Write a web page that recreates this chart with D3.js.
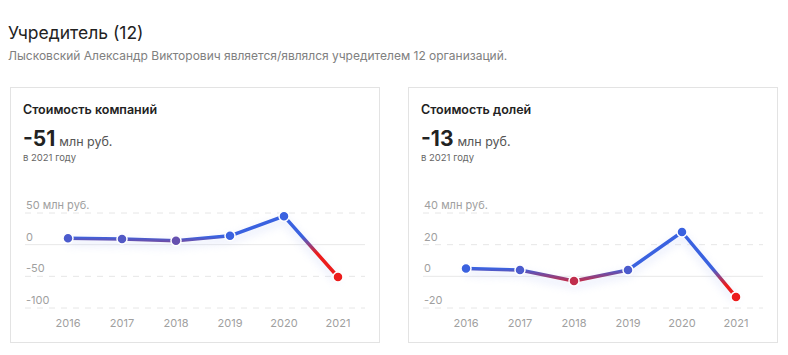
<!DOCTYPE html>
<html><head><meta charset="utf-8">
<script src="https://cdn.jsdelivr.net/npm/d3@7"></script>
<style>
body{margin:0;background:#fff;font-family:Inter,"Noto Sans",sans-serif;}
</style></head><body>
<svg id="c" width="788" height="355"></svg>
<script>
const years = ["2016","2017","2018","2019","2020","2021"];
const companyValues = [10, 9, 6, 14, 45, -51];
const shareValues = [5, 4, -3, 4, 28, -13];
const companyTicks = [50, 0, -50, -100];
const shareTicks = [40, 20, 0, -20];
const companyTitle = "Стоимость компаний";
const shareTitle = "Стоимость долей";
const headerTitle = "Учредитель (12)";
const headerSub = "Лысковский Александр Викторович является/являлся учредителем 12 организаций.";

const svg = d3.select("#c");
const blue = "#3a62e0", red = "#ec1c1c";

svg.append("text").attr("x",8).attr("y",39).attr("font-size",17.5).attr("fill","#222").text(headerTitle);
svg.append("text").attr("x",8).attr("y",60).attr("font-size",12).attr("fill","#808080").text(headerSub);

const defs = svg.append("defs");
const f = defs.append("filter").attr("id","sh").attr("x","-20%").attr("y","-50%").attr("width","140%").attr("height","200%");
f.append("feGaussianBlur").attr("in","SourceGraphic").attr("stdDeviation",4);

function card(x0, title, values, ticks, id){
  const g = svg.append("g").attr("transform",`translate(${x0},0)`);
  g.append("rect").attr("x",0.5).attr("y",87.5).attr("width",369).attr("height",255)
    .attr("fill","#fff").attr("stroke","#e3e3e3");
  g.append("text").attr("x",13).attr("y",114).attr("font-size",12.5).attr("font-weight",600).attr("fill","#222").text(title);
  const last = values[values.length-1];
  const big = g.append("text").attr("x",13).attr("y",146);
  big.append("tspan").attr("font-size",21).attr("font-weight",700).attr("fill","#222").text(String(last));
  big.append("tspan").attr("dx",4).attr("font-size",12.5).attr("fill","#555").text("млн руб.");
  g.append("text").attr("x",13).attr("y",161).attr("font-size",9.5).attr("fill","#666").text("в " + years[years.length-1] + " году");

  const x = d3.scalePoint().domain(years).range([31,355]).padding(0.5);
  const y = d3.scaleLinear().domain([ticks[ticks.length-1], ticks[0]]).range([308,213]);

  ticks.forEach((t,i)=>{
    g.append("line").attr("x1",15).attr("x2",355).attr("y1",y(t)).attr("y2",y(t))
      .attr("stroke", t===0 ? "#e8e8e8" : "#e6e6e6").attr("stroke-width",1)
      .attr("stroke-dasharray", t===0 ? null : "6,6");
    g.append("text").attr("x",16).attr("y",y(t)-4).attr("font-size",11).attr("fill","#a0a0a0")
      .text(i===0 ? t + " млн руб." : t);
  });
  years.forEach(yr=>{
    g.append("text").attr("x",x(yr)).attr("y",327).attr("text-anchor","middle")
      .attr("font-size",11).attr("fill","#a0a0a0").text(yr);
  });

  const y0 = y(0);
  const top = y0-8, span = 17;
  const gid = "grad"+id;
  const lg = defs.append("linearGradient").attr("id",gid).attr("gradientUnits","userSpaceOnUse")
    .attr("x1",0).attr("x2",0).attr("y1",top).attr("y2",top+span);
  lg.append("stop").attr("offset",0).attr("stop-color",blue);
  lg.append("stop").attr("offset",1).attr("stop-color",red);
  const col = v => {
    const t = Math.max(0, Math.min(1, (y(v) - top)/span));
    return d3.interpolateRgb(blue, red)(t);
  };
  const pts = years.map((yr,i)=>[x(yr), y(values[i])]);
  const line = d3.line();
  g.append("path").attr("d", line(pts.map(p=>[p[0],p[1]+4]))).attr("fill","none")
    .attr("stroke","#c8d2f8").attr("stroke-width",6).attr("opacity",0.4).attr("filter","url(#sh)");
  g.append("path").attr("d", line(pts)).attr("fill","none")
    .attr("stroke",`url(#${gid})`).attr("stroke-width",3.5).attr("stroke-linejoin","round");
  g.selectAll("circle.p").data(values).enter().append("circle")
    .attr("cx",(d,i)=>x(years[i])).attr("cy",d=>y(d)).attr("r",5)
    .attr("fill",d=>col(d)).attr("stroke","#fff").attr("stroke-width",1.5);
}
card(10, companyTitle, companyValues, companyTicks, "a");
card(408, shareTitle, shareValues, shareTicks, "b");
</script></body></html>
